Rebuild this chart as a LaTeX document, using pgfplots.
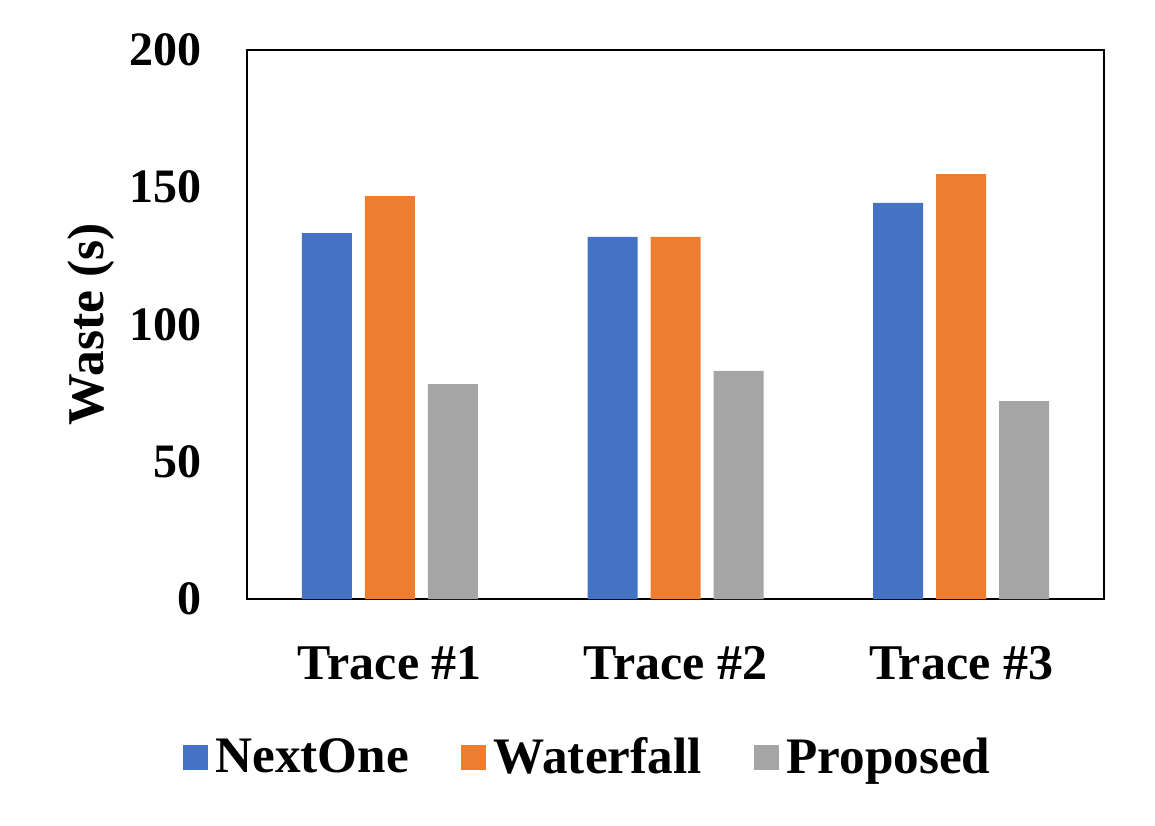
\documentclass[border=0pt]{standalone}
\usepackage{fontspec}
\setmainfont{Liberation Serif}
\usepackage{pgfplots}
\pgfplotsset{compat=1.18}
\definecolor{cblue}{HTML}{4472C4}
\definecolor{corange}{HTML}{ED7D31}
\definecolor{cgray}{HTML}{A5A5A5}
\begin{document}
\begin{tikzpicture}
\useasboundingbox (-123.5pt,-113pt) rectangle (454pt,299.5pt);
\begin{axis}[
  scale only axis,
  width=428.5pt, height=274.5pt,
  xmin=-0.5, xmax=2.5,
  ymin=0, ymax=200,
  xtick={0,1,2},
  xticklabels={Trace \#1, Trace \#2, Trace \#3},
  ytick={0,50,100,150,200},
  major tick length=0pt,
  axis line style={line width=1.1pt},
  /pgf/number format/assume math mode=true,
  yticklabel style={font=\fontsize{24}{28}\selectfont\bfseries, xshift=-19pt},
  xticklabel style={font=\fontsize{25}{29}\selectfont\bfseries, yshift=-20pt},
  ylabel={Waste (s)},
  ylabel style={font=\fontsize{25.8}{30}\selectfont\bfseries, at={(axis description cs:-0.1814,0.5)}, anchor=center},
  ybar, bar width=25pt,
  legend columns=3,
  legend style={draw=none, at={(0.3962,-0.2878)}, anchor=center,
    font=\fontsize{25.6}{30}\selectfont\bfseries,
    nodes={inner sep=0pt},
    /tikz/every odd column/.append style={column sep=4pt},
    /tikz/every even column/.append style={column sep=26pt}},
  legend image code/.code={\fill[#1] (0pt,-6.25pt) rectangle (12.5pt,6.25pt);},
]
\addplot[fill=cblue, draw=none, bar shift=-31.5pt] coordinates {(0,133.3) (1,131.9) (2,144.3)};
\addplot[fill=corange, draw=none, bar shift=0pt] coordinates {(0,146.8) (1,131.9) (2,154.8)};
\addplot[fill=cgray, draw=none, bar shift=31.5pt] coordinates {(0,78.3) (1,83.1) (2,72.1)};
\legend{NextOne, Waterfall, Proposed}
\end{axis}
\end{tikzpicture}
\end{document}
